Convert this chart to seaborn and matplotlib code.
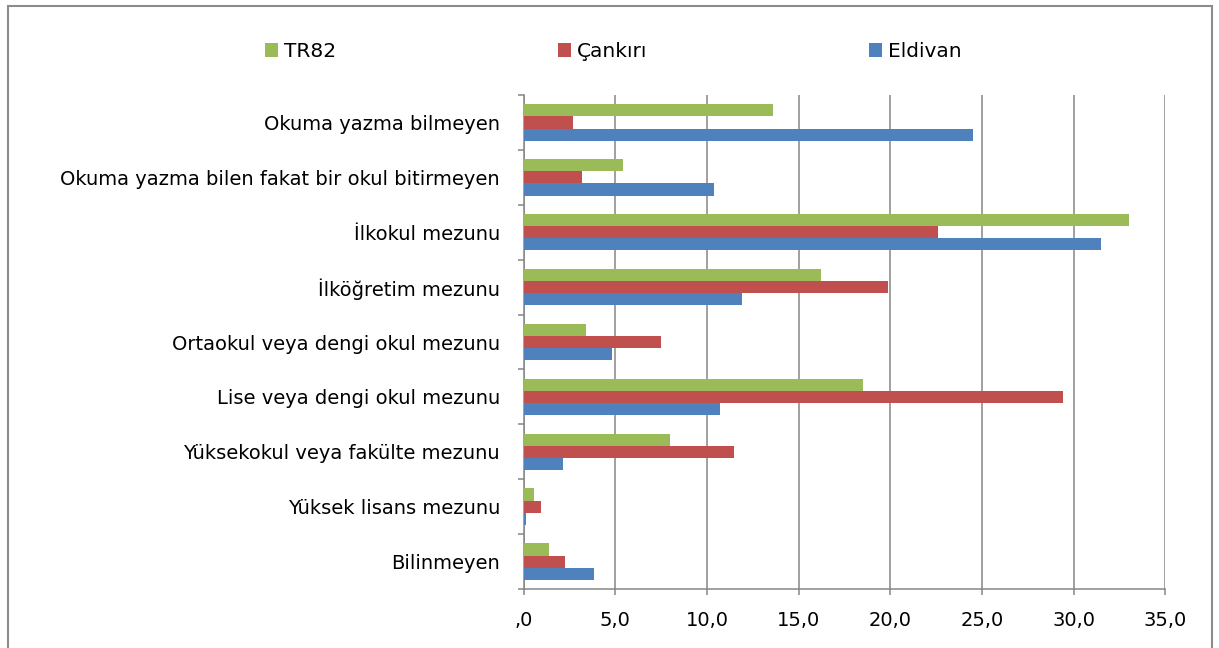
import pandas as pd
import seaborn as sns
import matplotlib.pyplot as plt
from matplotlib.patches import Rectangle

# ---------------- Data ----------------
categories = [
    "Okuma yazma bilmeyen",
    "Okuma yazma bilen fakat bir okul bitirmeyen",
    "İlkokul mezunu",
    "İlköğretim mezunu",
    "Ortaokul veya dengi okul mezunu",
    "Lise veya dengi okul mezunu",
    "Yüksekokul veya fakülte mezunu",
    "Yüksek lisans mezunu",
    "Bilinmeyen",
]
tr82 = [13.6, 5.4, 33.0, 16.2, 3.4, 18.5, 8.0, 0.55, 1.4]
cankiri = [2.7, 3.2, 22.6, 19.9, 7.5, 29.4, 11.5, 0.95, 2.25]
eldivan = [24.5, 10.4, 31.5, 11.9, 4.85, 10.7, 2.15, 0.15, 3.85]
regions = ["TR82", "Çankırı", "Eldivan"]
colors = ["#9BBB59", "#C0504D", "#4F81BD"]
x_ticks = [0, 5, 10, 15, 20, 25, 30, 35]

df = pd.DataFrame({
    "category": categories * 3,
    "value": tr82 + cankiri + eldivan,
    "region": [regions[0]] * 9 + [regions[1]] * 9 + [regions[2]] * 9,
})

# ---------------- Plot ----------------
sns.set_style("white")
plt.rcParams["font.family"] = ["DejaVu Sans"]
plt.rcParams["text.color"] = "black"
plt.rcParams["xtick.labelcolor"] = "black"
plt.rcParams["ytick.labelcolor"] = "black"
grid_col = "#868686"

fig = plt.figure(figsize=(12.19, 6.48), dpi=100)
ax = fig.add_axes([0.4295, 0.091, 0.5265, 0.7624])

sns.barplot(data=df, y="category", x="value", hue="region", hue_order=regions,
            palette=colors, orient="h", width=0.665, saturation=1,
            linewidth=0, ax=ax)
for bar in ax.patches:
    bar.set_zorder(3)

ax.set_xlim(0, 35)
ax.set_xticks(x_ticks)
labels = []
for v in x_ticks:
    s = f"{v:.1f}".replace(".", ",")
    if s.startswith("0,"):
        s = s[1:]
    labels.append(s)
ax.set_xticklabels(labels, fontsize=14)
ax.set_xlabel("")
ax.set_ylabel("")

ax.tick_params(axis="y", which="major", length=0, pad=17, labelsize=14, labelcolor="black")
ax.set_yticks([i - 0.5 for i in range(len(categories) + 1)], minor=True)
ax.tick_params(axis="y", which="minor", length=4.5, width=1.1, color=grid_col, direction="out", left=True)
ax.tick_params(axis="x", length=4.5, width=1.1, color=grid_col, direction="out", pad=11,
               bottom=True, labelcolor="black")

ax.xaxis.grid(True, color=grid_col, linewidth=1.1)
ax.yaxis.grid(False)
ax.set_axisbelow(True)
for side in ["top", "right"]:
    ax.spines[side].set_visible(False)
for side in ["left", "bottom"]:
    ax.spines[side].set_color(grid_col)
    ax.spines[side].set_linewidth(1.1)
    ax.spines[side].set_zorder(2)

handles, labs = ax.get_legend_handles_labels()
ax.legend_.remove()
leg = fig.legend(handles, labs, loc="center", bbox_to_anchor=(0.5033, 0.921), ncol=3,
                 frameon=False, fontsize=14.5, handlelength=0.65, handleheight=0.7,
                 handletextpad=0.3, columnspacing=11, borderpad=0)
for t in leg.get_texts():
    t.set_color("black")

fig.add_artist(Rectangle((8 / 1219, -0.1), (1212 - 8) / 1219, 1.1 - 6 / 648,
                         transform=fig.transFigure, fill=False,
                         edgecolor="#8c8c8c", linewidth=1.5, clip_on=False))

fig.savefig("out.png", dpi=100)
